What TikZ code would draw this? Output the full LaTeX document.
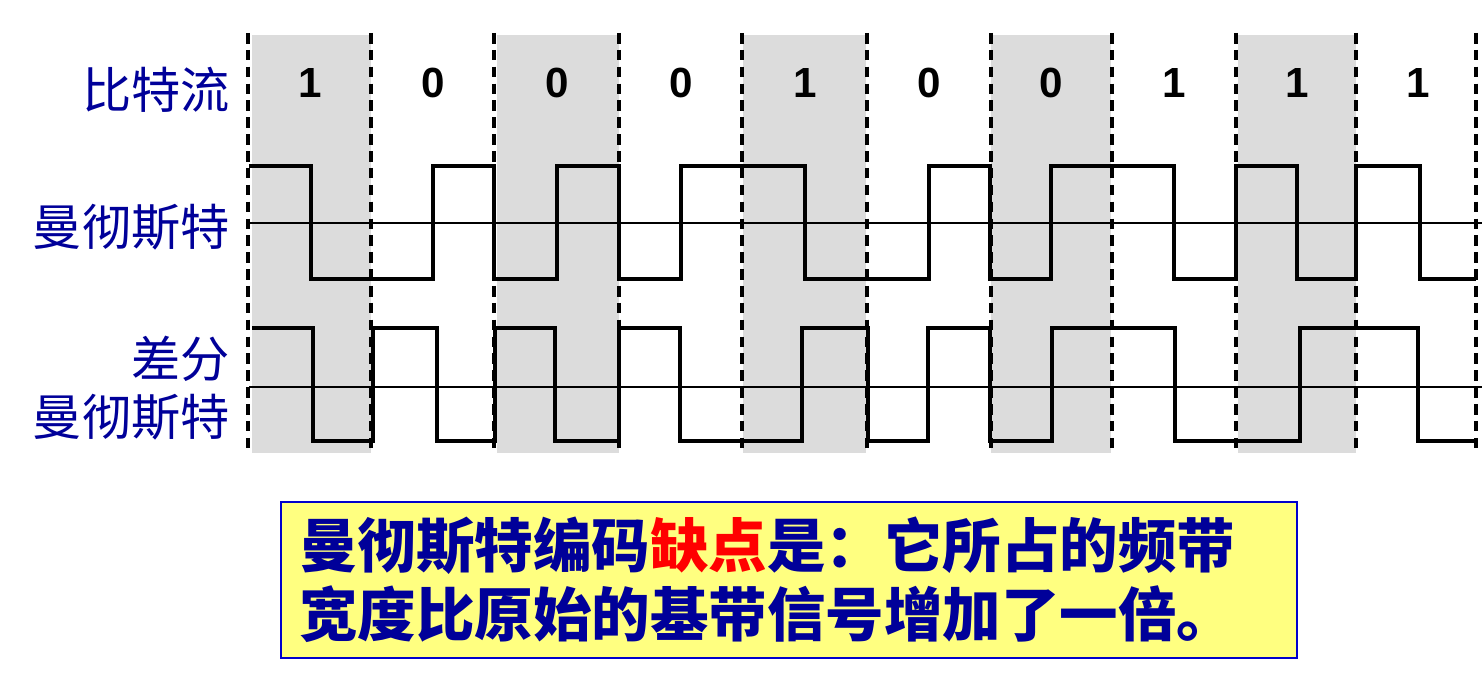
\documentclass[tikz,border=0pt]{standalone}
\usepackage{fontspec}
\setmainfont{Liberation Sans}
\newfontfamily\cjk{Noto Sans CJK SC}
\usepackage{xcolor}
\usepackage{tikz}
\usetikzlibrary{positioning}
\definecolor{lblBlue}{HTML}{000099}
\definecolor{cellGray}{HTML}{DCDCDC}
\definecolor{noteFill}{HTML}{FFFF80}
\definecolor{noteLine}{HTML}{0000CC}
\definecolor{defRed}{HTML}{FF0000}
\tikzset{
  rowlabel/.style={anchor=east, text=lblBlue, inner sep=0pt, align=right,
    font=\cjk\fontsize{28}{33}\selectfont},
  bitlabel/.style={font=\bfseries\fontsize{24}{24}\selectfont, inner sep=0pt},
  cellshade/.style={fill=cellGray, draw=none},
  cellbound/.style={draw=black, line width=2pt, dash pattern=on 6pt off 3.6pt},
  midline/.style={draw=black, line width=0.8pt},
  wave/.style={draw=black, line width=2.4pt, line join=miter},
  notebox/.style={draw=noteLine, line width=1.2pt, fill=noteFill,
    minimum width=20.32cm, minimum height=3.12cm, inner sep=0pt},
  notetext/.style={anchor=west, text=lblBlue, align=left, inner sep=0pt,
    font=\cjk\bfseries\fontsize{33.3}{39}\selectfont},
}

\begin{document}
\begin{tikzpicture}[x=0.02cm, y=-0.02cm]
  \useasboundingbox (0,0) rectangle (1482,682);
  \foreach \xa/\xb in {252/371, 497/619, 743/866, 991/1111, 1238/1356}
    \fill[cellshade] (\xa,35) rectangle (\xb,453);
  \foreach \xb in {248, 371, 494, 619, 742, 867, 991, 1112, 1236, 1356, 1476}
    \draw[cellbound] (\xb,33) -- (\xb,453);
  \foreach \xc/\bit [count=\i] in {310/1, 433/0, 557/0, 681/0, 805/1, 929/0, 1051/0, 1174/1, 1297/1, 1418/1}
    \node[bitlabel] (bit\i) at (\xc,83) {\bit};
  \draw[midline] (249,223) -- (1482,223);
  \draw[midline] (249,387) -- (1482,387);
  \node[rowlabel] (lstream) at (230,90) {比特流};
  \node[rowlabel] (lmanch) at (230,227) {曼彻斯特};
  \node[rowlabel] (ldiff) at (230,388) {差分\\曼彻斯特};
  \draw[wave] (249,166) -- (311,166) -- (311,279) -- (433,279) -- (433,166) -- (494,166)
    -- (494,279) -- (557,279) -- (557,166) -- (619,166) -- (619,279) -- (681,279)
    -- (681,166) -- (805,166) -- (805,279) -- (929,279) -- (929,166) -- (990,166)
    -- (990,279) -- (1051,279) -- (1051,166) -- (1174,166) -- (1174,279) -- (1236,279)
    -- (1236,166) -- (1297,166) -- (1297,279) -- (1356,279) -- (1356,166) -- (1420,166)
    -- (1420,279) -- (1476,279);
  \draw[wave] (252,328) -- (313,328) -- (313,441) -- (373,441) -- (373,328) -- (437,328)
    -- (437,441) -- (495,441) -- (495,328) -- (555,328) -- (555,441) -- (619,441)
    -- (619,328) -- (680,328) -- (680,441) -- (802,441) -- (802,328) -- (868,328)
    -- (868,441) -- (928,441) -- (928,328) -- (990,328) -- (990,441) -- (1052,441)
    -- (1052,328) -- (1175,328) -- (1175,441) -- (1300,441) -- (1300,328) -- (1418,328)
    -- (1418,441) -- (1477,441);
  \node[notebox] (note) at (789,580) {};
  \node[notetext] (notetxt) at ([xshift=0.38cm]note.west)
    {曼彻斯特编码{\color{defRed}缺点}是：它所占的频带\\宽度比原始的基带信号增加了一倍。};
\end{tikzpicture}
\end{document}
